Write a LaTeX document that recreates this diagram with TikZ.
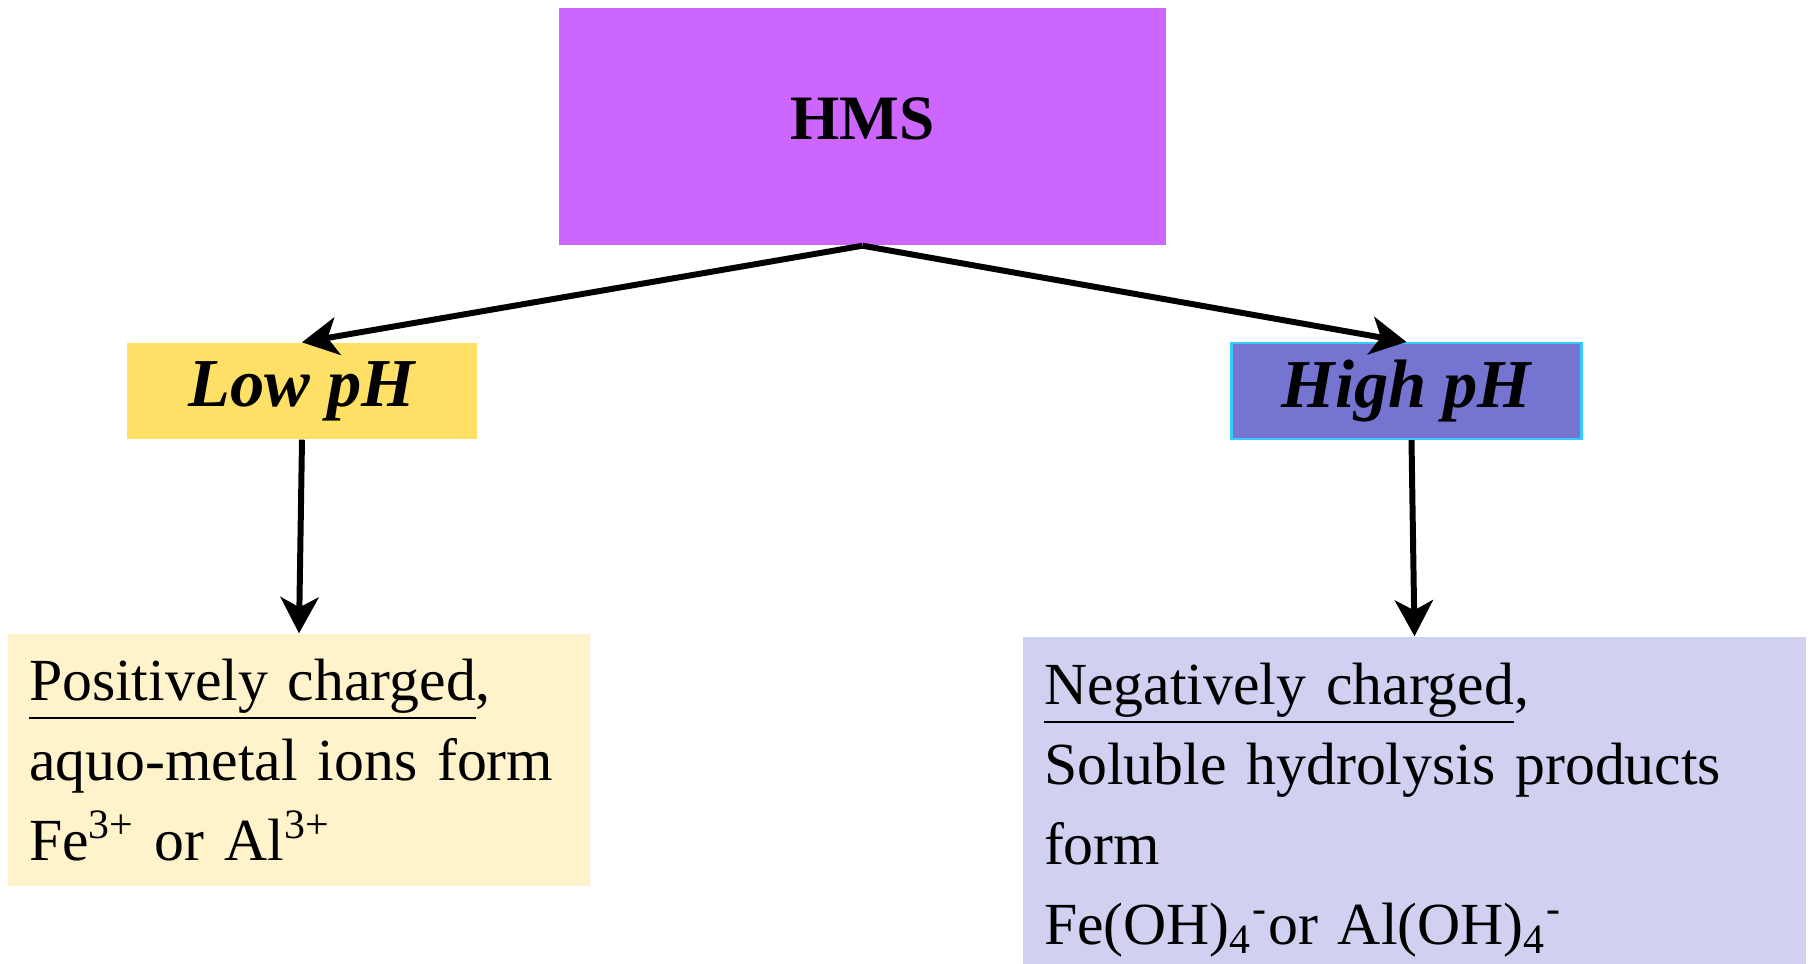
\documentclass[tikz,border=0pt]{standalone}
\usepackage{fontspec}
\setmainfont{Liberation Serif}
\usetikzlibrary{arrows.meta}
\definecolor{hmsviolet}{HTML}{CC66FF}
\definecolor{lowyellow}{HTML}{FFE066}
\definecolor{highblue}{HTML}{7575D1}
\definecolor{highedge}{HTML}{33CCFF}
\definecolor{posfill}{HTML}{FFF3CC}
\definecolor{negfill}{HTML}{D0D0F0}
\tikzset{
    hms-box/.style = {fill=hmsviolet, minimum width=6.07cm, minimum height=2.37cm, font=\fontsize{18}{20}\selectfont\bfseries},
    ph-box/.style = {minimum width=3.5cm, minimum height=0.96cm, font=\fontsize{19.5}{22}\selectfont\bfseries\itshape},
    result-box/.style = {align=left, inner xsep=0.21cm, font=\fontsize{17}{22.8}\selectfont},
    flow-arrow/.style = {-{Stealth[length=0.36cm,width=0.38cm,inset=0.1cm]}, line width=1.7pt},
}

\begin{document}
\begin{tikzpicture}
\useasboundingbox (0,0) rectangle (18.12,-9.63);
\node [hms-box] (hms) at (8.625,-1.265) {\raisebox{0.16cm}{HMS}};
\node [ph-box, fill=lowyellow] (low) at (3.02,-3.91) {Low pH};
\node [ph-box, fill=highblue, draw=highedge, line width=0.6pt] (high) at (14.065,-3.91) {High pH};
\node [result-box, fill=posfill, text width=5.4cm, minimum height=2.52cm] (pos) at (2.99,-7.60)
    {\underline{Positively charged},\\ aquo-metal ions form\\ Fe\textsuperscript{3+} or Al\textsuperscript{3+}};
\node [result-box, fill=negfill, text width=7.41cm, minimum height=3.46cm] (neg) at (14.145,-8.1)
    {\underline{Negatively charged},\\ Soluble hydrolysis products\\ form\\ Fe(OH)\textsubscript{4}\textsuperscript{-}or Al(OH)\textsubscript{4}\textsuperscript{-}};
% arrows
\draw [flow-arrow] (hms.south) -- (low.north);
\draw [flow-arrow] (hms.south) -- (high.north);
\draw [flow-arrow] (low.south) -- (pos.north);
\draw [flow-arrow] ([xshift=0.05cm]high.south) -- (neg.north);
\end{tikzpicture}
\end{document}
